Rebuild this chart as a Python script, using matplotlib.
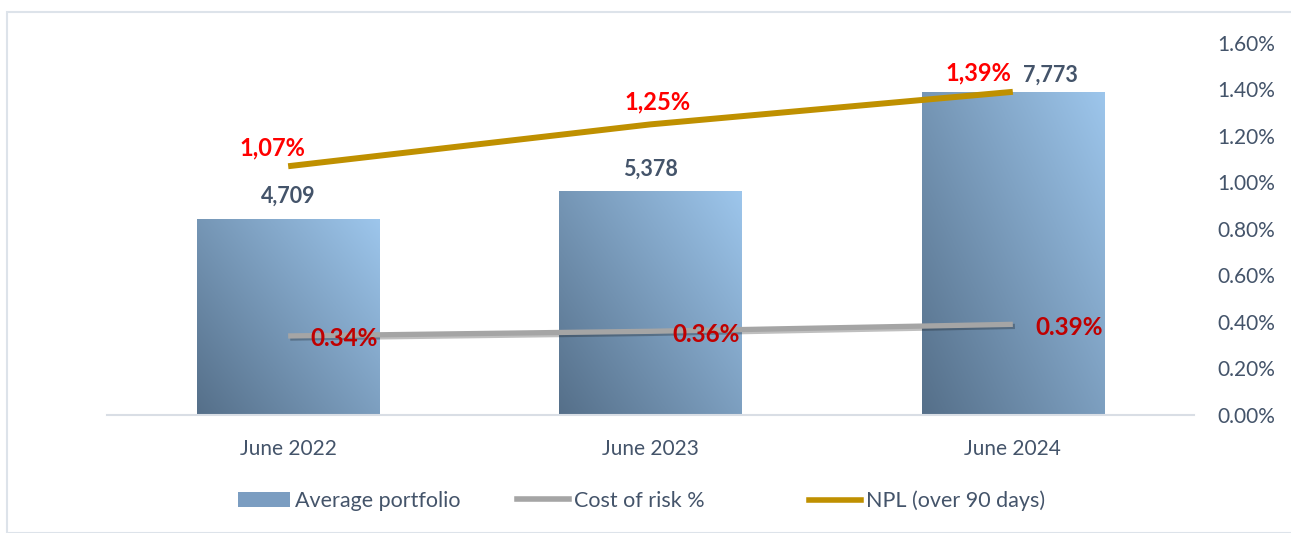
import numpy as np
import matplotlib
matplotlib.use("Agg")
import matplotlib.pyplot as plt
from matplotlib.patches import Rectangle
from matplotlib.lines import Line2D
import matplotlib.patheffects as pe

plt.rcParams['font.family'] = ['Lato', 'DejaVu Sans']

categories = ["June 2022", "June 2023", "June 2024"]
portfolio = [4709, 5378, 7773]
cost_of_risk = [0.34, 0.36, 0.39]
npl = [1.07, 1.25, 1.39]
portfolio_labels = ["4,709", "5,378", "7,773"]
cor_labels = ["0.34%", "0.36%", "0.39%"]
npl_labels = ["1,07%", "1,25%", "1,39%"]
right_ticks = [0.0, 0.2, 0.4, 0.6, 0.8, 1.0, 1.2, 1.4, 1.6]

TXT = '#44546a'
GOLD = '#bf9000'
GRAY = '#a5a5a5'
DARK = np.array([0x55, 0x6f, 0x89]) / 255
LIGHT = np.array([0x9d, 0xc6, 0xec]) / 255

W, H = 1291, 533
fig = plt.figure(figsize=(W / 100, H / 100), dpi=100)
fig.patches.append(Rectangle((7 / W, 0), 1.2, 1 - 12 / H, transform=fig.transFigure,
                             fill=False, edgecolor='#dde3ea', linewidth=1.5))

ax = fig.add_axes([107 / W, 1 - 415 / H, (1194 - 107) / W, (415 - 43) / H])
ax2 = ax.twinx()

x = np.arange(len(categories))
bars = ax.bar(x, portfolio, width=0.503, color='none', edgecolor='none', zorder=2)

# diagonal gradient image clipped to each bar
n = 200
u = np.linspace(0, 1, n)
U, V = np.meshgrid(u, u)
T = (U * 0.55 + (1 - V) * 0.45)
img = DARK[None, None, :] + T[:, :, None] * (LIGHT - DARK)[None, None, :]
for rect in bars:
    x0, w, h = rect.get_x(), rect.get_width(), rect.get_height()
    im = ax.imshow(img, extent=[x0, x0 + w, 0, h], aspect='auto', zorder=2, origin='upper')
    im.set_clip_path(rect)

ax.set_xlim(-0.5, 2.5)
ax.set_ylim(0, 8950)
ax.set_yticks([])
for s in ['top', 'left', 'right']:
    ax.spines[s].set_visible(False)
ax.spines['bottom'].set_color('#d9dee5')
ax.spines['bottom'].set_linewidth(1.5)
ax.set_xticks(x)
ax.set_xticklabels(categories, fontsize=15, color=TXT)
ax.tick_params(axis='x', length=0, pad=17)

for rect, lab, dx, dy in zip(bars, portfolio_labels, [0, 0, 38], [23, 22, 17]):
    ax.annotate(lab, (rect.get_x() + rect.get_width() / 2, rect.get_height()),
                xytext=(dx, dy), textcoords='offset pixels', ha='center', va='center',
                fontsize=15.5, fontweight='bold', color=TXT)

ax2.plot(x, cost_of_risk, color=GRAY, linewidth=3.8, solid_capstyle='butt', zorder=3,
         path_effects=[pe.SimpleLineShadow(offset=(1.5, -1.5), alpha=0.25), pe.Normal()])
ax2.plot(x, npl, color=GOLD, linewidth=4.3, solid_capstyle='butt', zorder=4)
ax2.set_ylim(0, 1.6)
ax2.set_yticks(right_ticks)
ax2.set_yticklabels([f"{t:.2f}%" for t in right_ticks], fontsize=15, color=TXT)
ax2.tick_params(axis='y', length=0, pad=16.5)
for s in ['top', 'left', 'right', 'bottom']:
    ax2.spines[s].set_visible(False)
ax.set_zorder(1)
ax2.set_zorder(2)
ax2.patch.set_visible(False)

for xi, v, lab, dx, dy in zip(x, npl, npl_labels, [-16, 7, -34], [18, 22, 19]):
    ax2.annotate(lab, (xi, v), xytext=(dx, dy), textcoords='offset pixels', ha='center',
                 va='center', fontsize=17, fontweight='bold', color='#ff0000')
for xi, v, lab in zip(x, cost_of_risk, cor_labels):
    ax2.annotate(lab, (xi, v), xytext=(56, -3), textcoords='offset pixels', ha='center',
                 va='center', fontsize=17.5, fontweight='bold', color='#c00000')

# legend
leg_y = 1 - 501 / H
handles = [Rectangle((0, 0), 1, 1, facecolor='#7b9dc1', edgecolor='none'),
           Line2D([], [], color=GRAY, linewidth=4),
           Line2D([], [], color=GOLD, linewidth=4)]
labels = ["Average portfolio", "Cost of risk %", "NPL (over 90 days)"]
for hnd, lab, xpos in zip(handles, labels, [238, 517, 809]):
    fig.legend([hnd], [lab], loc='center left', bbox_to_anchor=(xpos / W, leg_y),
               frameon=False, fontsize=15.5, handlelength=2.4, handleheight=0.75,
               handletextpad=0.25, borderpad=0, borderaxespad=0, labelcolor=TXT)

fig.savefig("out.png", dpi=100)
